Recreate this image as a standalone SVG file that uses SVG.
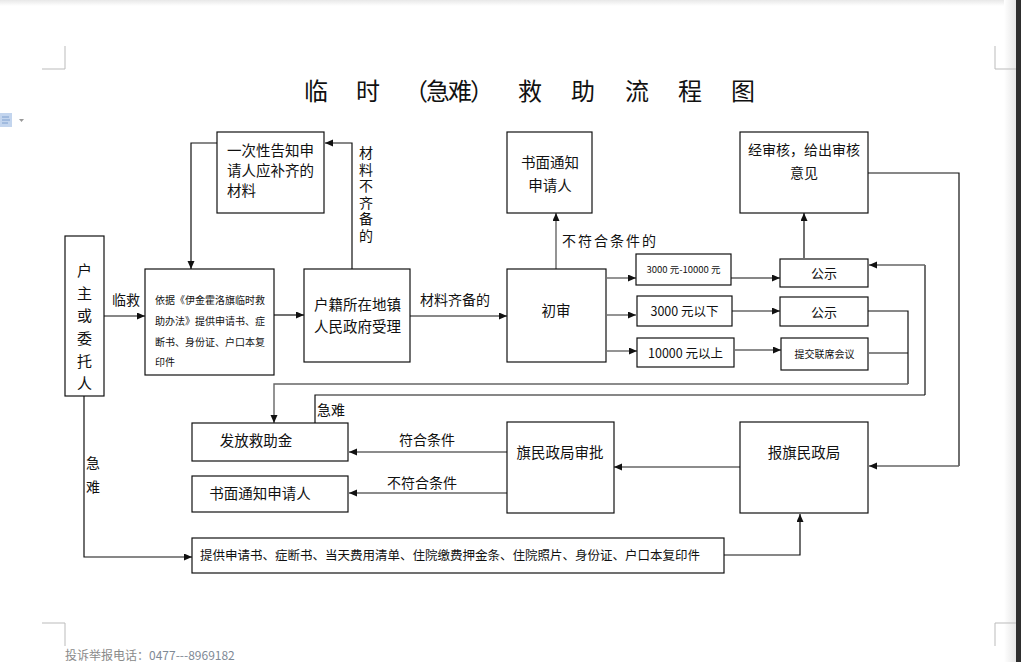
<svg xmlns="http://www.w3.org/2000/svg" width="1021" height="662" viewBox="0 0 1021 662">
<style>
text{font-family:"Noto Sans CJK SC","Liberation Sans",sans-serif;fill:#111}
.b{fill:#fff;stroke:#111;stroke-width:1.2}
.t{font-size:14.5px}
.s{font-size:10px}
.c{fill:none;stroke:#111;stroke-width:1.2}
.g{fill:none;stroke:#666;stroke-width:1.4}
.m{fill:none;stroke:#bbb;stroke-width:1}
.mid{text-anchor:middle}
</style>
<defs>
<marker id="a" markerUnits="userSpaceOnUse" markerWidth="9" markerHeight="8" refX="8" refY="3.5" orient="auto"><path d="M0,0 L8,3.5 L0,7 z" fill="#111"/></marker>
<linearGradient id="edge" x1="0" x2="1" y1="0" y2="0"><stop offset="0" stop-color="#fff"/><stop offset="1" stop-color="#e6e6e6"/></linearGradient>
<linearGradient id="top" x1="0" x2="0" y1="0" y2="1"><stop offset="0" stop-color="#e8e8e8"/><stop offset="1" stop-color="#fff"/></linearGradient>
</defs>
<rect width="1021" height="662" fill="#fff"/>
<rect x="0" y="0" width="1016" height="6" fill="url(#top)"/>
<rect x="1004" y="0" width="12" height="662" fill="url(#edge)"/>
<rect x="1016" y="0" width="5" height="662" fill="#2e2e2e"/>
<!-- page corner marks -->
<path class="m" d="M42,69 H65 V46 M995,46 V69 H1016 M42,623 H65 V646 M995,646 V623 H1016"/>
<!-- side icon -->
<g id="icon"><rect x="0" y="113" width="12" height="14" fill="#c3d5ee"/><path d="M2,117 H9 M2,120 H10 M2,123 H8" stroke="#7fa0cf" stroke-width="1"/><path d="M19,119 L24,119 L21.5,122 z" fill="#999"/></g>
<!-- title -->
<g id="title" style="font-size:24px">
<text x="316" y="100" class="mid">临</text>
<text x="368" y="100" class="mid">时</text>
<text x="448" y="100" class="mid" letter-spacing="-2">（急难）</text>
<text x="530" y="100" class="mid">救</text>
<text x="583" y="100" class="mid">助</text>
<text x="637" y="100" class="mid">流</text>
<text x="690" y="100" class="mid">程</text>
<text x="743" y="100" class="mid">图</text>
</g>
<!-- connectors -->
<g id="connectors">
<path class="c" d="M104,316 H145" marker-end="url(#a)"/>
<path class="c" d="M274,315 H304" marker-end="url(#a)"/>
<path class="c" d="M410,316 H507" marker-end="url(#a)"/>
<path class="c" d="M352,269 V143 H325" marker-end="url(#a)"/>
<path class="c" d="M217,143 H191 V269" marker-end="url(#a)"/>
<path class="g" d="M556,269 V213" marker-end="url(#a)"/>
<path class="g" d="M607,278 H636" marker-end="url(#a)"/>
<path class="g" d="M607,315 H636" marker-end="url(#a)"/>
<path class="g" d="M607,351 H637" marker-end="url(#a)"/>
<path class="c" d="M731,278 H780" marker-end="url(#a)"/>
<path class="g" d="M732,311 H780" marker-end="url(#a)"/>
<path class="g" d="M735,350 H781" marker-end="url(#a)"/>
<path class="c" d="M804,258 V213" marker-end="url(#a)"/>
<path class="c" d="M868,173 H959 V466" />
<path class="g" d="M959,466 H869" marker-end="url(#a)"/>
<path class="c" d="M868,311 H908 V384"/>
<path class="g" d="M908,384 H274 V423" marker-end="url(#a)"/>
<path class="c" d="M869,353 H908"/>
<path class="c" d="M315,423 V395 H925"/>
<path class="c" d="M925,395 V265"/>
<path class="g" d="M925,265 H869" marker-end="url(#a)"/>
<path class="g" d="M740,467 H614" marker-end="url(#a)"/>
<path class="g" d="M507,452 H349" marker-end="url(#a)"/>
<path class="g" d="M507,493 H349" marker-end="url(#a)"/>
<path class="c" d="M84,396 V557 H192" marker-end="url(#a)"/>
<path class="c" d="M724,555 H800 V514" marker-end="url(#a)"/>
</g>
<!-- connector labels -->
<g id="labels">
<text x="112" y="305" font-size="14px">临救</text>
<text x="420" y="305" font-size="14px">材料齐备的</text>
<text x="562" y="246" font-size="14px" letter-spacing="2">不符合条件的</text>
<text x="317" y="415" font-size="14px">急难</text>
<text x="399" y="445" font-size="14px">符合条件</text>
<text x="387" y="488" font-size="14px">不符合条件</text>
<text x="86" y="468" font-size="14px">急</text>
<text x="86" y="492" font-size="14px">难</text>
<text x="366" y="146" font-size="14px" writing-mode="vertical-rl" letter-spacing="2.5">材料不齐备的</text>
</g>
<!-- nodes -->
<g id="n-applicant">
<rect class="b" x="65" y="236" width="39" height="160"/>
<g font-size="15px">
<text x="84.5" y="276" class="mid">户</text>
<text x="84.5" y="299" class="mid">主</text>
<text x="84.5" y="321" class="mid">或</text>
<text x="84.5" y="344" class="mid">委</text>
<text x="84.5" y="367" class="mid">托</text>
<text x="84.5" y="389" class="mid">人</text>
</g>
</g>
<g id="n-basis">
<rect class="b" x="145" y="269" width="129" height="106"/>
<g class="s">
<text x="155" y="304">依据《伊金霍洛旗临时救</text>
<text x="155" y="325">助办法》提供申请书、症</text>
<text x="155" y="346">断书、身份证、户口本复</text>
<text x="155" y="366">印件</text>
</g>
</g>
<g id="n-notice-once">
<rect class="b" x="217" y="132" width="107" height="81"/>
<g class="t">
<text x="227" y="156">一次性告知申</text>
<text x="227" y="176">请人应补齐的</text>
<text x="227" y="196">材料</text>
</g>
</g>
<g id="n-town">
<rect class="b" x="304" y="269" width="106" height="93"/>
<g class="t">
<text x="314" y="310">户籍所在地镇</text>
<text x="314" y="332">人民政府受理</text>
</g>
</g>
<g id="n-first">
<rect class="b" x="507" y="269" width="99" height="93"/>
<text class="t mid" x="556" y="316">初审</text>
</g>
<g id="n-notify-top">
<rect class="b" x="507" y="132" width="85" height="81"/>
<text class="t mid" x="550" y="168">书面通知</text>
<text class="t mid" x="550" y="191">申请人</text>
</g>
<g id="n-review">
<rect class="b" x="740" y="132" width="128" height="81"/>
<text class="mid" x="804" y="155" font-size="14px">经审核，给出审核</text>
<text class="mid" x="804" y="178" font-size="14px">意见</text>
</g>
<g id="n-3000-10000">
<rect class="b" x="636" y="254" width="95" height="31"/>
<text class="mid" x="683.5" y="273" font-size="9.5px">3000 元-10000 元</text>
</g>
<g id="n-under3000">
<rect class="b" x="637" y="296" width="95" height="30"/>
<text class="mid" x="684.5" y="316" font-size="12.5px">3000 元以下</text>
</g>
<g id="n-over10000">
<rect class="b" x="637" y="338" width="97" height="29"/>
<text class="mid" x="685.5" y="358" font-size="12.5px">10000 元以上</text>
</g>
<g id="n-publicity1">
<rect class="b" x="780" y="259" width="88" height="28"/>
<text class="mid" x="824" y="278" font-size="13px">公示</text>
</g>
<g id="n-publicity2">
<rect class="b" x="780" y="297" width="88" height="29"/>
<text class="mid" x="824" y="317" font-size="13px">公示</text>
</g>
<g id="n-joint">
<rect class="b" x="781" y="338" width="87" height="32"/>
<text class="mid s" x="824.5" y="358">提交联席会议</text>
</g>
<g id="n-pay">
<rect class="b" x="192" y="423" width="156" height="38"/>
<text class="t mid" x="256" y="446">发放救助金</text>
</g>
<g id="n-notify-bottom">
<rect class="b" x="192" y="476" width="156" height="36"/>
<text class="t mid" x="260" y="499">书面通知申请人</text>
</g>
<g id="n-approve">
<rect class="b" x="507" y="422" width="107" height="91"/>
<text class="t mid" x="560" y="458">旗民政局审批</text>
</g>
<g id="n-report">
<rect class="b" x="740" y="422" width="128" height="91"/>
<text class="t mid" x="804" y="458">报旗民政局</text>
</g>
<g id="n-docs">
<rect class="b" x="192" y="538" width="532" height="35"/>
<text x="200" y="560" font-size="12.5px">提供申请书、症断书、当天费用清单、住院缴费押金条、住院照片、身份证、户口本复印件</text>
</g>
<!-- footer -->
<text x="65" y="660" font-size="12px" style="fill:#8a8a8a">投诉举报电话：<tspan style="fill:#7f8a96">0477---8969182</tspan></text>
</svg>
